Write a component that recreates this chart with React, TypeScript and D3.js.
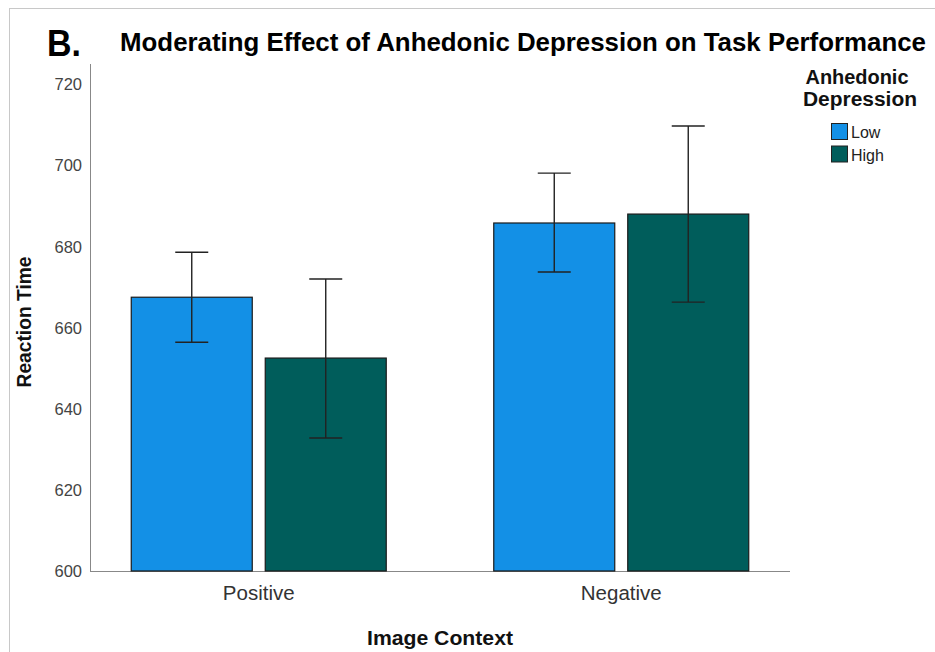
import React from "react";
import * as d3 from "d3";

const categories = ["Positive", "Negative"];
const groups = ["Low", "High"];
const means = [
  [667.5, 652.5],
  [685.8, 688.0],
];
const ciLow = [
  [656.4, 632.8],
  [673.7, 666.3],
];
const ciHigh = [
  [678.6, 672.0],
  [698.1, 709.7],
];
const yTicks = [600, 620, 640, 660, 680, 700, 720];
const colors = ["#1390E6", "#005D5B"];

const W = 935;
const H = 652;
const axisX0 = 90;
const axisX1 = 790;
const axisY0 = 571;
const axisTop = 64;

export default function App() {
  const y = d3.scaleLinear().domain([600, 725]).range([axisY0, axisTop]);
  const x = d3
    .scaleBand<string>()
    .domain(categories)
    .range([axisX0, axisX1])
    .paddingInner(0.2966)
    .paddingOuter(0.1138);
  const xs = d3
    .scaleBand<string>()
    .domain(groups)
    .range([0, x.bandwidth()])
    .paddingInner(0.097);
  const capW = 33;
  const font = "'Liberation Sans', Arial, sans-serif";

  return (
    <svg
      width={W}
      height={H}
      style={{ position: "absolute", left: 0, top: 0, display: "block" }}
      fontFamily={font}
    >
      <rect x={0} y={0} width={W} height={H} fill="#fff" />
      <rect x={9.5} y={8.5} width={W + 20} height={H + 20} fill="none" stroke="#c8c8c8" strokeWidth={1} />
      <text x={47} y={56} fontSize={37} fontWeight="bold" fill="#000" textLength={34} lengthAdjust="spacingAndGlyphs">B.</text>
      <text
        x={120}
        y={51}
        fontSize={26}
        fontWeight="bold"
        fill="#000"
        textLength={806}
        lengthAdjust="spacingAndGlyphs"
      >
        Moderating Effect of Anhedonic Depression on Task Performance
      </text>

      {/* axes */}
      <line x1={axisX0 + 0.5} x2={axisX0 + 0.5} y1={axisTop} y2={axisY0} stroke="#888" strokeWidth={1} />
      <line x1={axisX0} x2={axisX1} y1={axisY0 + 0.5} y2={axisY0 + 0.5} stroke="#888" strokeWidth={1} />
      {yTicks.map((t) => (
        <text key={t} x={82} y={y(t) + 6} fontSize={16.5} fill="#444" textAnchor="end">
          {t}
        </text>
      ))}

      {/* bars */}
      {categories.map((c, ci) =>
        groups.map((g, gi) => {
          const bx = (x(c) as number) + (xs(g) as number);
          const bw = xs.bandwidth();
          const cx = bx + bw / 2;
          return (
            <g key={c + g}>
              <rect
                x={bx}
                y={y(means[ci][gi])}
                width={bw}
                height={axisY0 - y(means[ci][gi])}
                fill={colors[gi]}
                stroke="#1a1a1a"
                strokeWidth={1.2}
              />
              <line x1={cx} x2={cx} y1={y(ciHigh[ci][gi])} y2={y(ciLow[ci][gi])} stroke="#222" strokeWidth={1.4} />
              <line x1={cx - capW / 2} x2={cx + capW / 2} y1={y(ciHigh[ci][gi])} y2={y(ciHigh[ci][gi])} stroke="#222" strokeWidth={1.4} />
              <line x1={cx - capW / 2} x2={cx + capW / 2} y1={y(ciLow[ci][gi])} y2={y(ciLow[ci][gi])} stroke="#222" strokeWidth={1.4} />
            </g>
          );
        })
      )}

      {categories.map((c) => (
        <text
          key={c}
          x={(x(c) as number) + x.bandwidth() / 2}
          y={600}
          fontSize={20.5}
          fill="#333"
          textAnchor="middle"
        >
          {c}
        </text>
      ))}

      <text
        x={440}
        y={645}
        fontSize={21}
        fontWeight="bold"
        fill="#111"
        textAnchor="middle"
        textLength={146}
        lengthAdjust="spacingAndGlyphs"
      >
        Image Context
      </text>
      <text
        transform={`translate(31,322) rotate(-90)`}
        fontSize={21}
        fontWeight="bold"
        fill="#111"
        textAnchor="middle"
        textLength={131}
        lengthAdjust="spacingAndGlyphs"
      >
        Reaction Time
      </text>

      {/* legend */}
      <text x={857} y={84} fontSize={20} fontWeight="bold" fill="#111" textAnchor="middle" textLength={103} lengthAdjust="spacingAndGlyphs">
        Anhedonic
      </text>
      <text x={860} y={106} fontSize={20} fontWeight="bold" fill="#111" textAnchor="middle" textLength={114} lengthAdjust="spacingAndGlyphs">
        Depression
      </text>
      {groups.map((g, gi) => (
        <g key={g}>
          <rect x={831.5} y={123.5 + gi * 22.5} width={16} height={16} fill={colors[gi]} stroke="#222" strokeWidth={1} />
          <text x={851} y={138 + gi * 22.5} fontSize={16} fill="#222">
            {g}
          </text>
        </g>
      ))}
    </svg>
  );
}
